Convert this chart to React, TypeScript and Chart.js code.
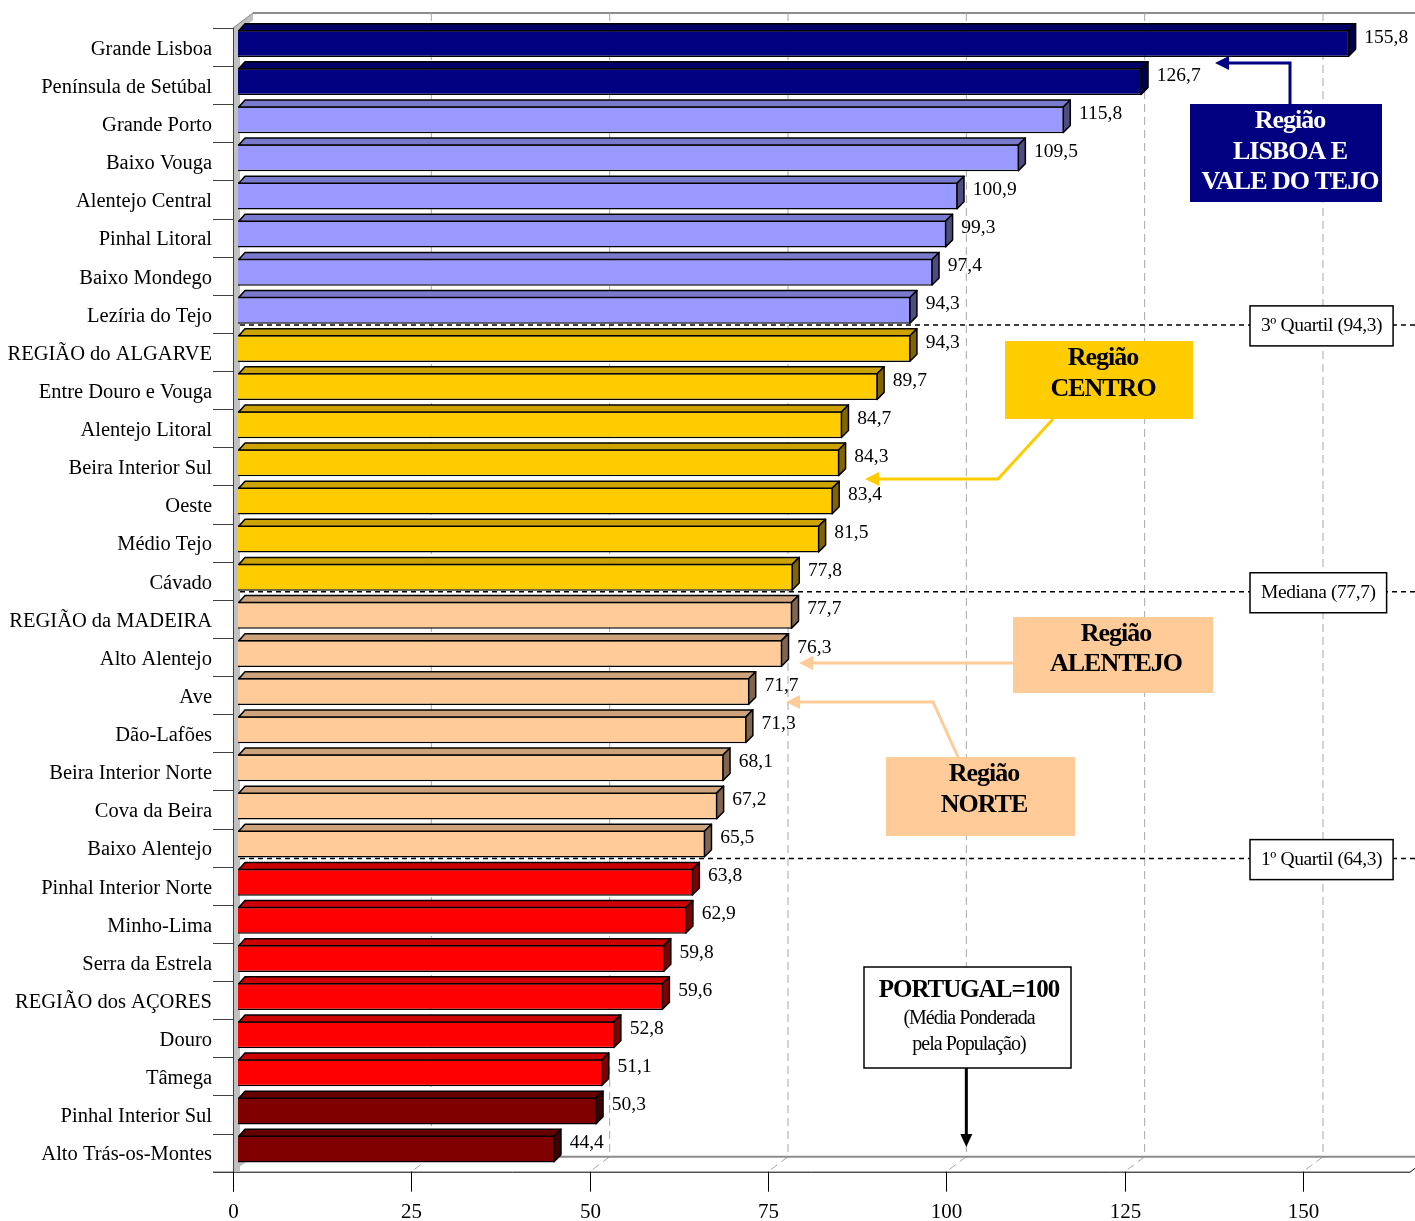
import React, { useEffect, useRef } from 'react';
import { Chart, registerables } from 'chart.js';

Chart.register(...registerables);

const CATEGORIES = [
  'Grande Lisboa', 'Península de Setúbal', 'Grande Porto', 'Baixo Vouga', 'Alentejo Central',
  'Pinhal Litoral', 'Baixo Mondego', 'Lezíria do Tejo', 'REGIÃO do ALGARVE', 'Entre Douro e Vouga',
  'Alentejo Litoral', 'Beira Interior Sul', 'Oeste', 'Médio Tejo', 'Cávado',
  'REGIÃO da MADEIRA', 'Alto Alentejo', 'Ave', 'Dão-Lafões', 'Beira Interior Norte',
  'Cova da Beira', 'Baixo Alentejo', 'Pinhal Interior Norte', 'Minho-Lima', 'Serra da Estrela',
  'REGIÃO dos AÇORES', 'Douro', 'Tâmega', 'Pinhal Interior Sul', 'Alto Trás-os-Montes',
];

const VALUES = [
  155.8, 126.7, 115.8, 109.5, 100.9, 99.3, 97.4, 94.3, 94.3, 89.7,
  84.7, 84.3, 83.4, 81.5, 77.8, 77.7, 76.3, 71.7, 71.3, 68.1,
  67.2, 65.5, 63.8, 62.9, 59.8, 59.6, 52.8, 51.1, 50.3, 44.4,
];

const X_TICKS = [0, 25, 50, 75, 100, 125, 150];
const X_MAX = 165;

// number of consecutive bars in each colour group (top to bottom)
const GROUP_SIZES = [2, 6, 7, 7, 6, 2];

// quartile markers: label and index of the category after which the line is drawn
const QUARTILE_LABELS = ['3º Quartil (94,3)', 'Mediana (77,7)', '1º Quartil (64,3)'];
const QUARTILE_AFTER = [7, 14, 21];

const GROUP_COLORS = [
  { front: '#000080', top: '#000066', side: '#000048' },
  { front: '#9999FF', top: '#7a7acc', side: '#4d4d80' },
  { front: '#FFCC00', top: '#cca300', side: '#806600' },
  { front: '#FFCC99', top: '#cca37a', side: '#806650' },
  { front: '#FF0000', top: '#cc0000', side: '#800000' },
  { front: '#800000', top: '#660000', side: '#400000' },
];

const groupOf: number[] = [];
GROUP_SIZES.forEach((n, g) => { for (let i = 0; i < n; i++) groupOf.push(g); });

const SERIF = '"Liberation Serif", "Times New Roman", serif';
const FRONT_DX = -5, FRONT_DY = 3.6;
const BACK_DX = 15, BACK_DY = -11.4;
const DEPTH = 7;

function arrow(ctx: CanvasRenderingContext2D, pts: number[][], color: string, width: number, head = 14, hw = 7) {
  ctx.save();
  ctx.strokeStyle = color;
  ctx.fillStyle = color;
  ctx.lineWidth = width;
  ctx.lineJoin = 'miter';
  const n = pts.length;
  const [tx, ty] = pts[n - 1];
  const [px, py] = pts[n - 2];
  const ang = Math.atan2(ty - py, tx - px);
  const bx = tx - Math.cos(ang) * head;
  const by = ty - Math.sin(ang) * head;
  ctx.beginPath();
  ctx.moveTo(pts[0][0], pts[0][1]);
  for (let i = 1; i < n - 1; i++) ctx.lineTo(pts[i][0], pts[i][1]);
  ctx.lineTo(bx, by);
  ctx.stroke();
  ctx.beginPath();
  ctx.moveTo(tx, ty);
  ctx.lineTo(bx + Math.sin(ang) * hw, by - Math.cos(ang) * hw);
  ctx.lineTo(bx - Math.sin(ang) * hw, by + Math.cos(ang) * hw);
  ctx.closePath();
  ctx.fill();
  ctx.restore();
}

function textBox(ctx: CanvasRenderingContext2D, x: number, y: number, w: number, h: number, fill: string,
  border: string | null, lines: { t: string; y: number; font: string }[], color: string, cx?: number, spacing = '-1px') {
  ctx.save();
  ctx.fillStyle = fill;
  ctx.fillRect(x, y, w, h);
  if (border) {
    ctx.strokeStyle = border;
    ctx.lineWidth = 1.5;
    ctx.strokeRect(x, y, w, h);
  }
  ctx.fillStyle = color;
  ctx.textAlign = 'center';
  ctx.textBaseline = 'middle';
  (ctx as any).letterSpacing = spacing;
  lines.forEach((l) => {
    ctx.font = l.font;
    ctx.fillText(l.t, cx ?? x + w / 2, l.y);
  });
  ctx.restore();
}

const decorPlugin = {
  id: 'decor3d',
  beforeDatasetsDraw(chart: any) {
    const ctx: CanvasRenderingContext2D = chart.ctx;
    const xs = chart.scales.x;
    const ys = chart.scales.y;
    const fx = (v: number) => xs.getPixelForValue(v) + FRONT_DX;
    const bxp = (v: number) => xs.getPixelForValue(v) + BACK_DX;
    const fTop = ys.top + FRONT_DY, fBot = ys.bottom + FRONT_DY;
    const bTop = ys.top + BACK_DY, bBot = ys.bottom + BACK_DY;
    const W = chart.width;
    ctx.save();

    // back wall top edge
    ctx.strokeStyle = '#8c8c8c';
    ctx.lineWidth = 2;
    ctx.beginPath();
    ctx.moveTo(bxp(0), bTop);
    ctx.lineTo(W, bTop);
    ctx.stroke();

    // gridlines on back wall and floor
    ctx.strokeStyle = '#a6a6a6';
    ctx.lineWidth = 1;
    ctx.setLineDash([8, 5]);
    X_TICKS.forEach((v) => {
      if (v === 0) return;
      const b = bxp(v);
      ctx.beginPath();
      ctx.moveTo(b, bTop);
      ctx.lineTo(b, bBot);
      ctx.lineTo(fx(v), fBot);
      ctx.stroke();
    });
    ctx.setLineDash([]);

    // floor back edge
    ctx.strokeStyle = '#8c8c8c';
    ctx.lineWidth = 2;
    ctx.beginPath();
    ctx.moveTo(bxp(0), bBot);
    ctx.lineTo(W, bBot);
    ctx.stroke();

    // floor front edge + right edge
    ctx.strokeStyle = '#000';
    ctx.lineWidth = 1;
    ctx.beginPath();
    ctx.moveTo(fx(0) - 20, fBot + 0.5);
    ctx.lineTo(fx(X_MAX), fBot + 0.5);
    ctx.lineTo(bxp(X_MAX), bBot);
    ctx.stroke();

    // left wall
    const L = fx(0);
    ctx.fillStyle = '#c0c0c0';
    ctx.fillRect(L, fTop, 7, fBot - fTop);
    ctx.beginPath();
    ctx.moveTo(L, fTop);
    ctx.lineTo(bxp(0), bTop);
    ctx.lineTo(bxp(0), bTop + 7);
    ctx.lineTo(L + 7, fTop + 2);
    ctx.closePath();
    ctx.fill();
    ctx.beginPath();
    ctx.moveTo(L, fBot);
    ctx.lineTo(bxp(0), bBot);
    ctx.lineTo(bxp(0) - 8, bBot);
    ctx.lineTo(L + 7, bBot + 5);
    ctx.lineTo(L + 7, fBot);
    ctx.closePath();
    ctx.fill();
    ctx.strokeStyle = '#808080';
    ctx.beginPath();
    ctx.moveTo(L, fTop);
    ctx.lineTo(bxp(0), bTop);
    ctx.stroke();
    ctx.strokeStyle = '#404040';
    ctx.beginPath();
    ctx.moveTo(L + 0.5, fTop);
    ctx.lineTo(L + 0.5, fBot + 20);
    ctx.stroke();

    // category tick marks (front plane)
    ctx.strokeStyle = '#404040';
    for (let k = 0; k <= CATEGORIES.length; k++) {
      const y = Math.round(ys.getPixelForValue(k - 0.5) + FRONT_DY) + 0.5;
      ctx.beginPath();
      ctx.moveTo(L - 20, y);
      ctx.lineTo(L, y);
      ctx.stroke();
    }

    // x tick marks and labels
    ctx.strokeStyle = '#000';
    ctx.fillStyle = '#000';
    ctx.font = `21px ${SERIF}`;
    ctx.textAlign = 'center';
    ctx.textBaseline = 'middle';
    X_TICKS.forEach((v) => {
      const x = Math.round(fx(v)) + 0.5;
      ctx.beginPath();
      ctx.moveTo(x, fBot);
      ctx.lineTo(x, fBot + 20);
      ctx.stroke();
      ctx.fillText(String(v), x, fBot + 41);
    });
    ctx.restore();
  },
  afterDatasetsDraw(chart: any) {
    const ctx: CanvasRenderingContext2D = chart.ctx;
    const meta = chart.getDatasetMeta(0);
    ctx.save();
    ctx.lineWidth = 1.5;
    ctx.strokeStyle = '#000';
    ctx.lineJoin = 'round';
    meta.data.forEach((el: any, i: number) => {
      const { x, y, base, height } = el.getProps(['x', 'y', 'base', 'height'], true);
      const top = y - height / 2;
      const bot = y + height / 2;
      const c = GROUP_COLORS[groupOf[i]];
      const d = DEPTH;
      ctx.fillStyle = c.top;
      ctx.beginPath();
      ctx.moveTo(base + 0.75, top + 0.75);
      ctx.lineTo(base + d, top - d + 0.75);
      ctx.lineTo(x + d - 0.75, top - d + 0.75);
      ctx.lineTo(x - 0.75, top + 0.75);
      ctx.closePath();
      ctx.fill();
      ctx.stroke();
      ctx.fillStyle = c.side;
      ctx.beginPath();
      ctx.moveTo(x - 0.75, top + 0.75);
      ctx.lineTo(x + d - 0.75, top - d + 0.75);
      ctx.lineTo(x + d - 0.75, bot - d - 0.75);
      ctx.lineTo(x - 0.75, bot - 0.75);
      ctx.closePath();
      ctx.fill();
      ctx.stroke();

      // value label
      ctx.fillStyle = '#000';
      ctx.font = `19.5px ${SERIF}`;
      ctx.textAlign = 'left';
      ctx.textBaseline = 'middle';
      ctx.fillText(VALUES[i].toFixed(1).replace('.', ','), x + 15, y - 6);
    });
    ctx.restore();
  },
  afterDraw(chart: any) {
    const ctx: CanvasRenderingContext2D = chart.ctx;
    const xs = chart.scales.x;
    const ys = chart.scales.y;
    const W = chart.width;

    // quartile lines and boxes
    const qFont = `19.5px ${SERIF}`;
    QUARTILE_LABELS.forEach((lab, q) => {
      const y = ys.getPixelForValue(QUARTILE_AFTER[q] + 0.5) - 4.5;
      ctx.save();
      ctx.strokeStyle = '#000';
      ctx.lineWidth = 1.5;
      ctx.setLineDash([5, 4]);
      ctx.beginPath();
      ctx.moveTo(xs.getPixelForValue(0) + 2, y);
      ctx.lineTo(W, y);
      ctx.stroke();
      ctx.restore();
      ctx.save();
      ctx.font = qFont;
      (ctx as any).letterSpacing = '-0.4px';
      const w = ctx.measureText(lab).width + 22;
      ctx.restore();
      textBox(ctx, 1250, y - 19, w, 40, '#fff', '#000', [{ t: lab, y: y + 1, font: qFont }], '#000', undefined, '-0.4px');
    });

    const bold = `bold 26px ${SERIF}`;

    // Lisboa e Vale do Tejo
    arrow(ctx, [[1290, 104], [1290, 63], [1215, 63]], '#000080', 3);
    textBox(ctx, 1190, 104, 192, 98, '#000080', null, [
      { t: 'Região', y: 121, font: bold },
      { t: 'LISBOA E', y: 152, font: bold },
      { t: 'VALE DO TEJO', y: 182, font: bold },
    ], '#fff', 1290);

    // Centro
    arrow(ctx, [[1053, 419], [998, 479], [865, 479]], '#FFCC00', 3);
    textBox(ctx, 1005, 341, 188, 78, '#FFCC00', null, [
      { t: 'Região', y: 358, font: bold },
      { t: 'CENTRO', y: 389, font: bold },
    ], '#000', 1103);

    // Alentejo
    arrow(ctx, [[1013, 663], [799, 663]], '#FFCC99', 3);
    textBox(ctx, 1013, 617, 200, 76, '#FFCC99', null, [
      { t: 'Região', y: 634, font: bold },
      { t: 'ALENTEJO', y: 664, font: bold },
    ], '#000', 1116);

    // Norte
    arrow(ctx, [[958, 757], [933, 702], [786, 702]], '#FFCC99', 3);
    textBox(ctx, 886, 757, 189, 79, '#FFCC99', null, [
      { t: 'Região', y: 774, font: bold },
      { t: 'NORTE', y: 805, font: bold },
    ], '#000', 984);

    // Portugal = 100
    const px = xs.getPixelForValue(100) + BACK_DX;
    arrow(ctx, [[px, 1068], [px, 1147]], '#000', 3, 13, 6);
    textBox(ctx, 864, 967, 207, 101, '#fff', '#000', [
      { t: 'PORTUGAL=100', y: 991, font: `bold 25px ${SERIF}` },
      { t: '(Média Ponderada', y: 1019, font: `20px ${SERIF}` },
      { t: 'pela População)', y: 1045, font: `20px ${SERIF}` },
    ], '#000', 969);
  },
};

export default function App() {
  const ref = useRef<HTMLCanvasElement>(null);
  useEffect(() => {
    if (!ref.current) return;
    const chart = new Chart(ref.current, {
      type: 'bar',
      data: {
        labels: CATEGORIES,
        datasets: [{
          data: VALUES,
          backgroundColor: VALUES.map((_, i) => GROUP_COLORS[groupOf[i]].front),
          borderColor: '#000',
          borderWidth: 1.5,
          categoryPercentage: 1,
          barPercentage: 0.71,
        }],
      },
      options: {
        indexAxis: 'y',
        responsive: false,
        animation: false,
        devicePixelRatio: 1,
        events: [],
        layout: { padding: { top: 24.4, bottom: 52.9, left: 0, right: 0 } },
        plugins: { legend: { display: false }, tooltip: { enabled: false } },
        scales: {
          x: { type: 'linear', min: 0, max: X_MAX, display: false },
          y: {
            type: 'category',
            display: true,
            position: 'left',
            grid: { display: false, drawTicks: false },
            border: { display: false },
            ticks: {
              autoSkip: false,
              padding: 26,
              labelOffset: 6,
              color: '#000',
              font: { family: SERIF, size: 20.5 },
            },
            afterFit: (scale: any) => {
              scale.width = 238;
              scale.paddingTop = 0;
              scale.paddingBottom = 0;
            },
          },
        },
      },
      plugins: [decorPlugin],
    });
    return () => chart.destroy();
  }, []);
  return (
    <div style={{ position: 'absolute', left: 0, top: 0, width: 1415, height: 1221 }}>
      <canvas ref={ref} width={1415} height={1221} style={{ display: 'block' }} />
    </div>
  );
}
